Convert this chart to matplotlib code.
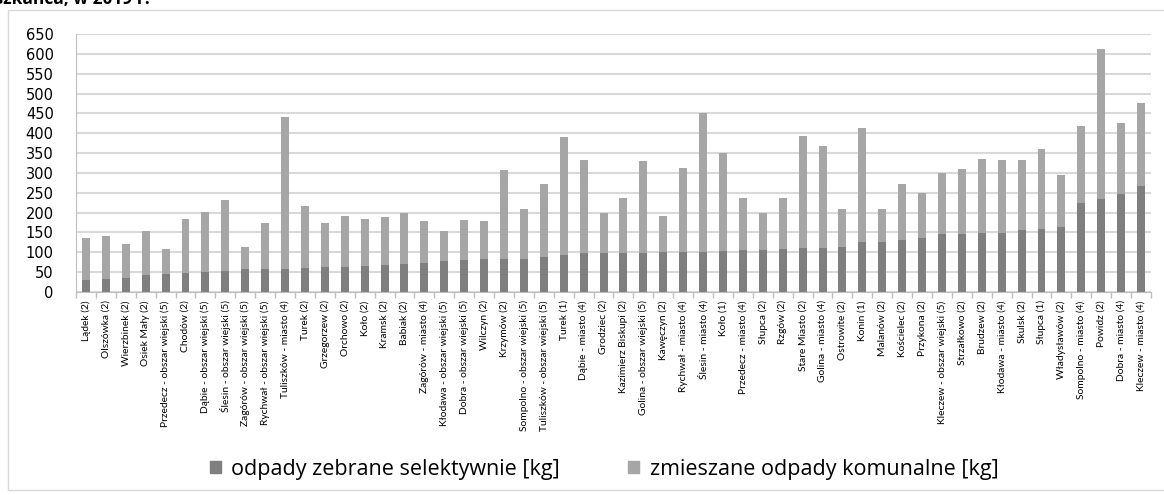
import numpy as np
import matplotlib
matplotlib.use("Agg")
import matplotlib.pyplot as plt
from matplotlib.patches import Rectangle, Patch

gminy = ["Lądek (2)", "Olszówka (2)", "Wierzbinek (2)", "Osiek Mały (2)",
         "Przedecz - obszar wiejski (5)", "Chodów (2)", "Dąbie - obszar wiejski (5)",
         "Ślesin - obszar wiejski (5)", "Zagórów - obszar wiejski (5)",
         "Rychwał - obszar wiejski (5)", "Tuliszków - miasto (4)", "Turek (2)",
         "Grzegorzew (2)", "Orchowo (2)", "Koło (2)", "Kramsk (2)", "Babiak (2)",
         "Zagórów - miasto (4)", "Kłodawa - obszar wiejski (5)",
         "Dobra - obszar wiejski (5)", "Wilczyn (2)", "Krzymów (2)",
         "Sompolno - obszar wiejski (5)", "Tuliszków - obszar wiejski (5)",
         "Turek (1)", "Dąbie - miasto (4)", "Grodziec (2)", "Kazimierz Biskupi (2)",
         "Golina - obszar wiejski (5)", "Kawęczyn (2)", "Rychwał - miasto (4)",
         "Ślesin - miasto (4)", "Koło (1)", "Przedecz - miasto (4)", "Słupca (2)",
         "Rzgów (2)", "Stare Miasto (2)", "Golina - miasto (4)", "Ostrowite (2)",
         "Konin (1)", "Malanów (2)", "Kościelec (2)", "Przykona (2)",
         "Kleczew - obszar wiejski (5)", "Strzałkowo (2)", "Brudzew (2)",
         "Kłodawa - miasto (4)", "Skulsk (2)", "Słupca (1)", "Władysławów (2)",
         "Sompolno - miasto (4)", "Powidz (2)", "Dobra - miasto (4)",
         "Kleczew - miasto (4)"]

selektywne = [30, 32, 36, 44, 45, 48, 51, 54, 57, 58,
              58, 61, 62, 63, 65, 67, 70, 74, 78, 80,
              84, 84, 84, 89, 94, 97, 97, 97, 97, 100,
              100, 100, 104, 106, 106, 109, 110, 110, 114, 125,
              126, 130, 135, 145, 147, 149, 149, 157, 159, 164,
              225, 234, 246, 267]

zmieszane = [107, 108, 86, 110, 63, 135, 150, 177, 57, 117,
             384, 156, 111, 129, 119, 121, 128, 106, 76, 102,
             96, 223, 126, 184, 296, 236, 103, 139, 232, 92,
             213, 352, 246, 131, 94, 127, 283, 259, 96, 289,
             84, 143, 115, 156, 162, 187, 183, 175, 201, 132,
             192, 378, 181, 210]

y_ticks = list(range(0, 651, 50))

c_dark = "#7f7f7f"
c_light = "#a6a6a6"

fig = plt.figure(figsize=(11.64, 4.95), dpi=100)
ax = fig.add_axes([76 / 1164, 1 - 292 / 495, (1151 - 76) / 1164, (292 - 34) / 495])

x = np.arange(len(gminy))
ax.bar(x, selektywne, width=0.4, color=c_dark, zorder=3)
ax.bar(x, zmieszane, width=0.4, bottom=selektywne, color=c_light, zorder=3)

ax.set_xlim(-0.5, len(gminy) - 0.5)
ax.set_ylim(0, 650)
ax.set_yticks(y_ticks)
ax.tick_params(axis="y", length=0, labelsize=10.5, pad=16)
ax.yaxis.grid(True, color="#d9d9d9", linewidth=1.5, zorder=0)

ax.set_xticks(x)
ax.set_xticklabels(gminy, rotation=90, fontsize=7.4, family=["Lato", "DejaVu Sans"])
ax.tick_params(axis="x", length=0, pad=6)
# excel-style ticks between categories
ax.set_xticks(np.arange(-0.5, len(gminy)), minor=True)
ax.tick_params(axis="x", which="minor", length=4, color="#bfbfbf", width=1)

for s in ["top", "right"]:
    ax.spines[s].set_visible(False)
ax.spines["left"].set_color("#bfbfbf")
ax.spines["bottom"].set_color("#bfbfbf")
ax.spines["bottom"].set_zorder(4)

# frame of the chart
fig.patches.append(Rectangle((8 / 1164, 5 / 495), 1.0, 1 - 15 / 495, transform=fig.transFigure,
                             fill=False, edgecolor="#d9d9d9", linewidth=1))

fig.text(150 / 1164, 1 - 4 / 495, "Rys. 5. Ilość odpadów na 1 mieszkańca, w 2019 r.", ha="right",
         va="baseline", fontsize=12.5, fontweight="bold", family=["Open Sans", "DejaVu Sans"])

handles = [Patch(color=c_dark), Patch(color=c_light)]
fig.legend(handles, ["odpady zebrane selektywnie [kg]", "zmieszane odpady komunalne [kg]"],
           loc="center", bbox_to_anchor=(604 / 1164, 1 - 469 / 495), ncol=2, frameon=False,
           prop={"family": ["Open Sans", "DejaVu Sans"], "size": 15.5},
           handlelength=0.51, handleheight=0.51, handletextpad=0.47, columnspacing=3.2)

fig.savefig("out.png", dpi=100)
